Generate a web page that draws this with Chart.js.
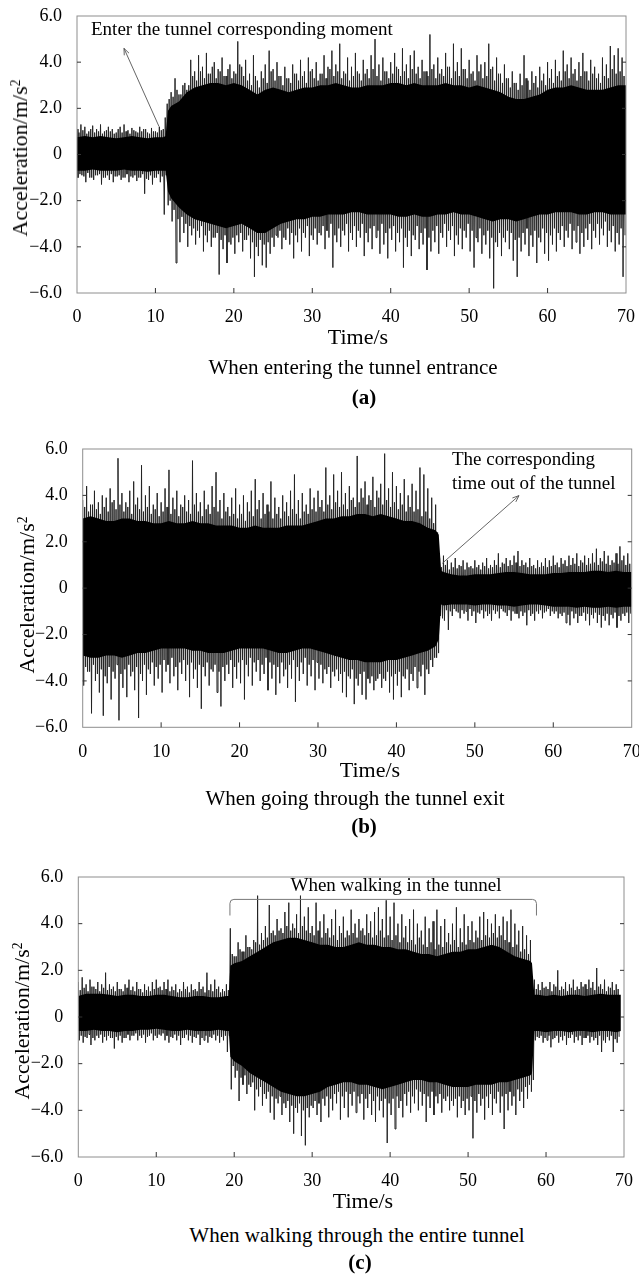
<!DOCTYPE html>
<html><head><meta charset="utf-8">
<script src="https://cdn.jsdelivr.net/npm/chart.js@4.4.1/dist/chart.umd.min.js"></script>
<style>
html,body{margin:0;padding:0;width:639px;height:1282px;overflow:hidden;background:#fff;}
canvas{position:absolute;left:0;}
.t{position:absolute;font-family:"Liberation Serif","Times New Roman",serif;color:#000;white-space:nowrap;line-height:1;}
.c{transform:translate(-50%,-50%);}
.l{transform:translate(0,-50%);}
.r{transform:translate(-50%,-50%) rotate(-90deg);}
sup{font-size:0.62em;vertical-align:0.55em;line-height:0;}
</style></head><body>
<canvas id="ca"></canvas>
<canvas id="cb"></canvas>
<canvas id="cc"></canvas>

<div class="t l" style="left:91px;top:28px;font-size:19px;">Enter the tunnel corresponding moment</div>
<div class="t r" style="left:20px;top:158px;font-size:22px;">Acceleration/m/s<sup>2</sup></div>
<div class="t c" style="left:358px;top:337px;font-size:22px;">Time/s</div>
<div class="t c" style="left:353px;top:367px;font-size:21px;">When entering the tunnel entrance</div>
<div class="t c" style="left:364px;top:397px;font-size:21px;font-weight:bold;">(a)</div>

<div class="t l" style="left:452px;top:458px;font-size:19px;">The corresponding</div>
<div class="t l" style="left:452px;top:482px;font-size:19px;">time out of the tunnel</div>
<div class="t r" style="left:27px;top:595px;font-size:22px;">Acceleration/m/s<sup>2</sup></div>
<div class="t c" style="left:370px;top:770px;font-size:22px;">Time/s</div>
<div class="t c" style="left:355px;top:798px;font-size:21px;">When going through the tunnel exit</div>
<div class="t c" style="left:364px;top:826px;font-size:21px;font-weight:bold;">(b)</div>

<div class="t c" style="left:396px;top:884px;font-size:19px;">When walking in the tunnel</div>
<div class="t r" style="left:22px;top:1021px;font-size:22px;">Acceleration/m/s<sup>2</sup></div>
<div class="t c" style="left:363px;top:1201px;font-size:22px;">Time/s</div>
<div class="t c" style="left:357px;top:1235px;font-size:21px;">When walking through the entire tunnel</div>
<div class="t c" style="left:360px;top:1262px;font-size:21px;font-weight:bold;">(c)</div>

<script>
// ---- axis ticks ----
const X_TICKS = [0, 10, 20, 30, 40, 50, 60, 70];
const X_LABELS = ['0', '10', '20', '30', '40', '50', '60', '70'];
const Y_TICKS = [-6, -4, -2, 0, 2, 4, 6];
const Y_LABELS = ['\u22126.0', '\u22124.0', '\u22122.0', '0', '2.0', '4.0', '6.0'];

// Peak samples, one group every 0.5 s:
// up[k] at t=0.5k, dn[k] at 0.5k+0.125, midUp[k] at 0.5k+0.25, midDn[k] at 0.5k+0.375
const SPIKE_STEP = 0.5;

// ---- (a) entering the tunnel ----
const upA = [1.1,1.3,1.2,1.0,1.25,1.1,1.3,1.0,1.2,1.1,
 0.95,1.2,1.3,1.05,1.15,1.0,1.2,1.1,0.95,1.15,
 1.0,1.2,1.1,2.2,2.7,3.3,2.6,3.0,2.8,4.1,
 3.6,4.3,3.8,4.4,3.5,4.0,3.7,4.2,3.4,3.9,
 3.6,4.9,3.8,4.1,3.5,4.3,3.2,3.6,3.9,4.5,
 3.7,4.0,3.4,3.8,3.3,3.9,3.5,4.1,3.6,4.2,
 3.7,4.0,3.5,4.3,3.8,4.5,3.9,4.8,3.6,4.2,
 3.8,4.4,3.5,4.1,3.7,4.3,5.0,3.9,4.2,3.6,
 4.0,4.4,3.7,4.6,3.9,4.3,4.5,3.8,4.1,3.6,
 5.2,3.9,4.2,3.7,4.4,3.8,4.8,4.0,4.6,3.7,
 4.1,3.6,4.3,3.9,4.0,4.8,3.8,4.2,3.5,3.9,
 3.3,3.6,3.1,3.5,4.3,3.2,3.6,3.4,3.8,3.5,
 4.0,3.7,4.1,3.6,4.5,3.9,4.2,3.7,4.0,4.4,
 3.6,4.1,3.8,3.5,4.2,3.9,4.7,4.3,4.6,4.2];
const dnA = [-1.0,-0.9,-1.2,-1.0,-1.1,-0.9,-1.3,-1.0,-1.1,-1.2,
 -0.95,-1.1,-1.0,-1.2,-1.0,-1.15,-1.0,-1.7,-1.1,-1.3,
 -1.0,-1.2,-2.6,-2.2,-2.9,-4.7,-3.8,-3.4,-4.0,-3.5,
 -3.9,-3.6,-4.2,-3.8,-4.0,-3.6,-5.2,-4.1,-4.7,-3.9,
 -4.3,-3.8,-4.2,-3.7,-4.5,-5.3,-4.4,-4.8,-4.9,-4.3,
 -4.0,-3.6,-4.1,-3.7,-3.9,-4.5,-3.8,-4.2,-3.6,-4.4,
 -3.7,-3.9,-3.5,-4.1,-3.6,-4.9,-3.8,-4.0,-3.5,-4.2,
 -3.7,-4.0,-3.6,-4.4,-3.8,-4.1,-3.6,-4.3,-3.9,-4.5,
 -3.7,-4.2,-3.8,-4.9,-4.0,-4.4,-3.7,-4.1,-3.9,-5.0,
 -4.2,-3.8,-4.3,-3.6,-4.0,-3.7,-4.4,-3.9,-4.1,-3.6,
 -4.2,-4.9,-3.8,-4.3,-3.9,-4.5,-5.8,-4.0,-4.4,-3.8,
 -4.1,-4.6,-5.3,-4.2,-3.9,-4.4,-4.0,-4.7,-3.8,-4.3,
 -4.6,-3.9,-4.2,-3.7,-4.0,-3.6,-4.1,-3.8,-4.3,-4.0,
 -3.7,-4.1,-3.6,-3.9,-3.5,-4.0,-3.8,-4.2,-3.9,-5.3];
const midUpA = [0.95,1.05,0.9,1.1,0.95,1.0,0.9,1.05,1.0,0.9,
 1.1,0.95,1.0,0.9,1.05,0.95,1.0,1.1,0.9,1.0,
 0.95,1.05,1.6,2.4,2.5,2.8,2.6,3.1,3.0,3.4,
 3.2,3.6,3.3,3.5,3.8,3.3,3.6,3.4,3.7,3.3,
 3.5,3.9,3.4,3.2,3.0,3.4,2.9,3.3,3.1,3.6,
 3.2,3.4,3.0,3.3,3.1,3.5,3.2,3.4,3.1,3.6,
 3.3,3.2,3.5,3.3,3.7,3.4,3.6,3.3,3.5,3.2,
 3.4,3.6,3.2,3.5,3.3,3.7,3.4,3.2,3.6,3.3,
 3.5,3.8,3.4,3.6,3.3,3.7,3.5,3.3,3.6,3.4,
 3.7,3.3,3.5,3.4,3.8,3.3,3.6,3.4,3.7,3.3,
 3.5,3.2,3.6,3.3,3.4,3.7,3.2,3.5,3.1,3.3,
 2.9,3.1,2.8,3.0,3.3,2.8,3.1,2.9,3.2,3.0,
 3.3,3.1,3.4,3.2,3.6,3.3,3.5,3.2,3.4,3.6,
 3.2,3.5,3.3,3.1,3.4,3.3,3.7,3.5,3.6,3.4];
const midDnA = [-0.85,-0.95,-0.8,-1.0,-0.9,-0.85,-1.0,-0.9,-0.85,-0.95,
 -0.9,-1.0,-0.85,-0.95,-0.9,-1.0,-0.85,-1.05,-0.9,-1.0,
 -0.85,-0.95,-0.9,-2.0,-2.4,-2.8,-2.7,-3.0,-3.1,-3.2,
 -3.3,-3.1,-3.5,-3.3,-3.6,-3.4,-3.7,-3.5,-3.8,-3.6,
 -3.5,-3.4,-3.7,-3.5,-3.8,-4.0,-3.7,-3.9,-3.8,-3.6,
 -3.5,-3.3,-3.6,-3.2,-3.4,-3.5,-3.2,-3.4,-3.1,-3.5,
 -3.2,-3.4,-3.1,-3.3,-3.0,-3.5,-3.2,-3.3,-3.0,-3.4,
 -3.1,-3.3,-3.0,-3.4,-3.2,-3.1,-3.3,-3.0,-3.4,-3.2,
 -3.1,-3.4,-3.2,-3.6,-3.3,-3.5,-3.1,-3.4,-3.2,-3.6,
 -3.3,-3.1,-3.4,-3.0,-3.3,-3.1,-3.5,-3.2,-3.3,-3.0,
 -3.3,-3.6,-3.2,-3.5,-3.3,-3.6,-3.8,-3.4,-3.6,-3.3,
 -3.4,-3.7,-3.6,-3.4,-3.2,-3.5,-3.3,-3.6,-3.2,-3.4,
 -3.5,-3.2,-3.4,-3.1,-3.3,-3.0,-3.3,-3.1,-3.4,-3.2,
 -3.0,-3.3,-3.0,-3.2,-2.9,-3.3,-3.1,-3.4,-3.2,-3.5];
const coreTimesA = [0,1,2,3,4,5,6,7,8,9,10,11,11.3,11.6,
 12,13,14,15,16,17,18,19,20,21,22,23,24,25,26,27,28,29,30,31,32,33,34,35,36,37,38,39,40,
 41,42,43,44,45,46,47,48,49,50,51,52,53,54,55,56,57,58,59,60,61,62,63,64,65,66,67,68,69,70];
const coreTopA = [0.75,0.8,0.75,0.8,0.75,0.7,0.75,0.8,0.75,0.7,0.75,0.75,0.8,1.9,
 2.1,2.3,2.7,2.9,3.0,3.1,3.1,3.0,3.1,3.0,2.8,2.6,2.8,2.9,2.8,2.7,2.8,2.9,2.9,3.0,3.0,3.1,3.0,2.9,2.9,3.0,3.0,3.0,3.1,
 3.1,3.0,3.1,3.0,3.0,3.0,3.1,3.0,3.0,2.9,3.0,2.9,2.8,2.7,2.5,2.4,2.4,2.5,2.6,2.8,2.9,2.9,3.0,2.9,2.8,2.8,2.8,2.9,3.0,3.0];
const coreBotA = [-0.7,-0.7,-0.65,-0.7,-0.7,-0.7,-0.65,-0.7,-0.7,-0.75,-0.7,-0.7,-0.7,-1.6,
 -1.9,-2.3,-2.6,-2.8,-2.9,-3.0,-3.1,-3.2,-3.1,-3.0,-3.2,-3.4,-3.4,-3.2,-3.0,-2.9,-2.8,-2.8,-2.7,-2.7,-2.6,-2.6,-2.6,-2.5,-2.5,-2.6,-2.6,-2.6,-2.6,
 -2.7,-2.7,-2.6,-2.7,-2.7,-2.6,-2.6,-2.5,-2.6,-2.6,-2.7,-2.8,-2.9,-2.8,-2.8,-2.9,-2.8,-2.7,-2.6,-2.6,-2.5,-2.5,-2.5,-2.6,-2.6,-2.5,-2.5,-2.6,-2.6,-2.6];

// ---- (b) going through the exit ----
const upB = [3.8,4.4,3.6,4.2,3.7,4.0,3.9,4.3,3.8,5.6,
 4.1,3.7,4.2,4.6,3.9,5.3,4.0,4.4,3.6,4.1,
 3.7,4.3,5.1,3.9,4.2,3.6,4.0,3.8,5.5,4.1,
 3.7,4.2,3.6,4.4,5.0,3.8,4.1,3.5,3.9,4.3,
 3.6,4.0,3.7,4.2,4.7,3.8,4.1,3.6,4.6,3.9,
 3.5,4.0,3.7,4.2,4.9,3.8,4.1,3.6,4.3,3.9,
 4.2,3.8,5.2,4.0,4.9,4.2,5.0,4.1,4.4,3.9,
 5.7,4.3,4.6,4.0,4.8,4.2,4.5,5.8,4.3,5.0,
 4.4,4.1,4.7,4.0,4.5,4.2,5.2,4.9,4.3,3.9,
 3.6,1.3,1.4,1.2,1.1,1.3,1.0,1.2,1.1,0.95,
 1.2,1.0,1.1,1.3,1.0,1.2,1.5,1.1,1.3,1.2,
 1.4,1.6,1.2,1.1,1.3,1.0,1.2,1.1,1.3,1.2,
 1.4,1.1,1.3,1.2,1.4,1.3,1.5,1.2,1.4,1.3,
 1.5,1.7,1.3,1.6,1.4,1.2,1.5,1.8,1.4,1.5];
const dnB = [-4.2,-3.6,-5.4,-4.0,-4.5,-5.5,-4.1,-4.8,-3.9,-5.7,
 -4.3,-4.7,-3.8,-4.4,-5.6,-4.0,-4.6,-3.7,-4.2,-3.9,
 -4.5,-3.6,-4.1,-3.8,-4.4,-3.7,-4.0,-4.7,-3.9,-4.3,
 -5.2,-3.8,-4.2,-3.6,-4.5,-5.1,-4.0,-3.7,-4.3,-3.9,
 -4.1,-4.8,-3.8,-4.2,-3.6,-4.0,-3.7,-4.4,-3.9,-4.6,
 -4.1,-3.8,-4.3,-3.9,-4.9,-4.0,-3.7,-4.2,-3.8,-4.4,
 -3.9,-4.1,-3.7,-4.3,-3.8,-4.0,-4.5,-4.7,-3.9,-5.0,
 -4.2,-4.6,-4.8,-4.1,-4.4,-3.9,-4.3,-4.0,-4.5,-4.8,
 -4.2,-4.7,-3.9,-4.4,-4.0,-4.3,-3.8,-4.6,-3.7,-3.4,
 -3.0,-1.2,-1.4,-1.8,-1.2,-1.0,-1.3,-1.1,-1.4,-1.2,
 -1.5,-1.1,-1.3,-1.2,-1.4,-1.1,-1.3,-1.0,-1.2,-1.4,
 -1.1,-1.3,-1.2,-1.6,-1.2,-1.4,-1.1,-1.3,-1.0,-1.2,
 -1.1,-1.3,-1.2,-1.5,-1.6,-1.3,-1.5,-1.2,-1.4,-1.6,
 -1.3,-1.5,-1.7,-1.4,-1.6,-1.3,-1.7,-1.4,-1.2,-1.5];
const midUpB = [3.5,3.3,3.6,3.4,3.2,3.5,3.3,3.7,3.4,3.6,
 3.3,3.5,3.2,3.6,3.4,3.3,3.5,3.2,3.4,3.1,
 3.3,3.5,3.2,3.4,3.1,3.5,3.3,3.2,3.6,3.3,
 3.1,3.4,3.2,3.5,3.3,3.0,3.3,3.1,3.2,3.0,
 3.2,2.9,3.3,3.1,3.4,3.0,3.2,3.3,3.0,3.2,
 3.0,3.3,3.1,3.4,3.2,3.0,3.3,3.2,3.4,3.3,
 3.5,3.3,3.6,3.4,3.7,3.5,3.6,3.4,3.8,3.5,
 3.7,3.9,3.6,3.8,3.5,3.9,3.6,3.8,3.5,3.7,
 3.4,3.6,3.3,3.5,3.3,3.4,3.1,3.3,3.0,2.8,
 2.4,0.9,1.0,0.8,0.9,0.85,0.95,0.8,0.9,0.85,
 0.9,0.8,0.95,0.85,0.9,1.0,0.9,1.05,0.95,1.0,
 1.1,0.95,1.0,0.9,0.95,0.85,0.9,0.95,0.9,0.95,
 1.0,0.9,1.05,0.95,1.0,1.05,0.95,1.1,1.0,1.05,
 1.1,1.0,1.15,1.05,1.0,1.1,1.05,1.2,1.0,1.05];
const midDnB = [-3.4,-3.6,-3.3,-3.7,-3.5,-3.8,-3.4,-3.6,-3.3,-3.7,
 -3.5,-3.3,-3.6,-3.4,-3.7,-3.3,-3.5,-3.2,-3.4,-3.3,
 -3.1,-3.3,-3.0,-3.4,-3.2,-3.1,-3.3,-3.2,-3.5,-3.3,
 -3.4,-3.2,-3.5,-3.3,-3.6,-3.4,-3.3,-3.1,-3.4,-3.2,
 -3.1,-3.3,-3.0,-3.2,-3.1,-3.3,-3.0,-3.2,-3.3,-3.4,
 -3.2,-3.5,-3.3,-3.1,-3.4,-3.2,-3.0,-3.3,-3.1,-3.2,
 -3.3,-3.5,-3.4,-3.6,-3.5,-3.7,-3.6,-3.8,-3.5,-3.9,
 -3.7,-3.6,-3.9,-3.8,-4.0,-3.7,-3.9,-3.6,-3.8,-3.7,
 -3.6,-3.8,-3.5,-3.7,-3.4,-3.6,-3.3,-3.5,-3.1,-3.0,
 -2.8,-1.3,-0.95,-1.0,-0.9,-1.05,-0.95,-1.0,-0.9,-1.0,
 -1.05,-0.95,-1.0,-1.1,-0.95,-1.0,-0.9,-1.05,-0.95,-1.0,
 -1.1,-1.0,-1.05,-0.95,-1.1,-1.0,-0.95,-1.05,-0.9,-1.0,
 -1.0,-1.1,-1.05,-1.15,-1.0,-1.1,-1.2,-1.05,-1.1,-1.15,
 -1.05,-1.15,-1.2,-1.1,-1.15,-1.05,-1.2,-1.1,-1.05,-1.1];
const coreTimesB = [0,1,2,3,4,5,6,7,8,9,10,11,12,13,14,15,16,17,18,19,20,21,22,23,24,25,26,27,28,29,
 30,31,32,33,34,35,36,37,38,39,40,41,42,43,44,45,45.4,45.7,
 46,47,48,49,50,51,52,53,54,55,56,57,58,59,60,61,62,63,64,65,66,67,68,69,70];
const coreTopB = [3.0,3.1,3.0,2.9,2.9,3.0,3.0,2.9,2.9,2.8,2.8,2.9,2.8,2.8,2.9,2.8,2.8,2.7,2.7,2.7,2.6,2.6,2.7,2.6,2.6,2.6,2.7,2.7,2.7,2.8,
 2.9,3.0,3.0,3.1,3.1,3.2,3.2,3.1,3.2,3.1,3.0,2.9,2.9,2.8,2.6,2.5,2.3,0.75,
 0.7,0.6,0.55,0.55,0.6,0.6,0.6,0.65,0.7,0.7,0.65,0.6,0.6,0.6,0.65,0.65,0.7,0.7,0.7,0.75,0.75,0.7,0.75,0.7,0.7];
const coreBotB = [-2.9,-3.0,-3.0,-2.9,-2.9,-3.0,-2.9,-2.8,-2.8,-2.7,-2.6,-2.6,-2.6,-2.6,-2.7,-2.7,-2.8,-2.8,-2.8,-2.7,-2.6,-2.6,-2.6,-2.6,-2.7,-2.8,-2.8,-2.7,-2.6,-2.6,
 -2.7,-2.8,-2.9,-3.0,-3.1,-3.1,-3.2,-3.2,-3.2,-3.1,-3.1,-3.0,-2.9,-2.8,-2.7,-2.5,-2.2,-0.7,
 -0.75,-0.7,-0.7,-0.7,-0.75,-0.7,-0.7,-0.75,-0.75,-0.8,-0.75,-0.7,-0.7,-0.75,-0.8,-0.8,-0.8,-0.85,-0.8,-0.85,-0.85,-0.8,-0.85,-0.8,-0.8];

// ---- (c) walking through the entire tunnel ----
const upC = [1.5,1.7,1.4,1.6,1.3,1.5,1.4,1.9,1.4,1.3,
 1.5,1.2,1.4,1.6,1.3,1.5,1.2,1.4,1.3,1.5,
 1.6,1.3,1.5,1.6,1.3,1.4,1.2,1.5,1.3,1.4,
 1.2,1.5,1.3,1.9,1.4,1.6,1.3,1.2,1.4,3.8,
 2.6,3.2,2.8,3.5,3.0,3.3,5.2,3.6,3.9,4.8,
 3.7,4.2,3.8,4.5,4.9,4.0,4.4,5.2,4.3,4.7,
 3.9,4.9,4.1,4.4,3.8,4.2,4.6,3.9,4.3,3.7,
 4.6,4.0,4.2,3.8,4.4,4.1,4.5,4.7,4.2,5.0,
 4.3,4.9,4.0,4.4,3.9,4.2,4.6,4.0,3.7,4.3,
 3.8,4.1,4.6,3.9,4.2,3.6,4.0,4.7,3.8,4.4,
 3.9,4.1,3.7,4.3,4.5,4.2,4.0,4.4,3.9,4.3,
 4.1,4.6,4.0,3.7,3.9,3.5,3.3,1.6,1.4,1.5,
 1.3,1.5,1.4,2.0,1.3,1.5,1.4,1.6,1.3,1.5,
 1.4,1.6,1.5,2.1,1.4,1.6,1.3,1.5,1.4,null];
const dnC = [-1.0,-1.1,-0.9,-1.2,-1.0,-0.9,-1.1,-1.0,-0.9,-1.35,
 -1.0,-1.1,-0.9,-1.0,-0.8,-1.0,-0.9,-1.1,-0.8,-1.0,
 -0.9,-0.8,-1.0,-1.1,-0.9,-1.0,-1.2,-0.9,-1.0,-1.1,
 -0.9,-1.2,-1.0,-1.1,-0.9,-1.0,-1.1,-1.0,-1.5,-3.1,
 -2.6,-3.6,-2.9,-3.3,-3.0,-4.0,-3.4,-3.8,-3.5,-4.1,
 -4.4,-3.7,-4.2,-3.9,-4.5,-5.0,-4.1,-5.1,-5.5,-4.3,
 -3.9,-4.2,-4.5,-3.8,-4.3,-4.0,-3.7,-4.4,-3.9,-4.3,
 -3.8,-4.1,-3.7,-4.4,-3.9,-4.2,-4.5,-4.0,-4.3,-5.4,
 -4.2,-4.8,-3.9,-4.3,-3.8,-4.1,-3.7,-4.0,-3.8,-4.5,
 -3.9,-4.2,-3.7,-4.1,-3.6,-4.0,-3.8,-4.3,-3.9,-4.2,
 -4.0,-5.2,-4.1,-3.8,-4.4,-3.9,-4.2,-3.7,-4.1,-4.8,
 -4.0,-3.8,-4.2,-3.6,-3.9,-3.5,-3.2,-1.0,-0.9,-1.1,
 -1.0,-1.3,-0.9,-1.1,-1.0,-1.2,-0.9,-1.1,-1.0,-1.2,
 -0.9,-1.1,-1.0,-1.2,-1.5,-1.1,-1.0,-1.5,-1.1,null];
const midUpC = [1.15,1.25,1.1,1.3,1.2,1.1,1.25,1.15,1.2,1.1,
 1.2,1.1,1.25,1.15,1.1,1.2,1.05,1.15,1.1,1.2,
 1.25,1.15,1.2,1.1,1.15,1.05,1.1,1.2,1.05,1.15,
 1.1,1.2,1.05,1.15,1.1,1.2,1.05,1.1,1.15,2.7,
 2.6,2.9,2.8,3.0,2.9,3.2,3.1,3.3,3.4,3.6,
 3.5,3.7,3.6,3.9,3.7,3.8,3.6,3.9,3.7,3.6,
 3.5,3.7,3.4,3.6,3.4,3.5,3.3,3.6,3.4,3.5,
 3.6,3.4,3.7,3.5,3.6,3.4,3.5,3.7,3.4,3.5,
 3.3,3.5,3.2,3.4,3.2,3.3,3.1,3.4,3.1,3.0,
 3.2,2.9,3.1,3.0,3.2,3.1,3.3,3.0,3.2,3.1,
 3.3,3.2,3.4,3.3,3.5,3.4,3.6,3.4,3.5,3.3,
 3.2,3.0,3.1,2.8,2.9,2.7,1.6,1.2,1.15,1.25,
 1.2,1.1,1.3,1.15,1.2,1.1,1.25,1.15,1.2,1.3,
 1.2,1.25,1.15,1.3,1.2,1.1,1.25,1.15,1.2,null];
const midDnC = [-0.8,-0.85,-0.75,-0.9,-0.8,-0.75,-0.85,-0.8,-0.9,-0.85,
 -0.8,-0.9,-0.75,-0.8,-0.7,-0.8,-0.75,-0.85,-0.7,-0.8,
 -0.75,-0.7,-0.8,-0.85,-0.75,-0.8,-0.9,-0.75,-0.8,-0.85,
 -0.75,-0.9,-0.8,-0.85,-0.75,-0.8,-0.85,-0.8,-0.8,-2.1,
 -2.3,-2.6,-2.5,-2.9,-2.8,-3.1,-3.0,-3.3,-3.2,-3.4,
 -3.5,-3.4,-3.7,-3.6,-3.8,-3.9,-3.7,-4.0,-3.9,-3.8,
 -3.6,-3.7,-3.5,-3.4,-3.5,-3.3,-3.2,-3.4,-3.2,-3.3,
 -3.2,-3.4,-3.3,-3.5,-3.3,-3.6,-3.4,-3.6,-3.5,-3.7,
 -3.5,-3.4,-3.6,-3.3,-3.2,-3.4,-3.1,-3.2,-3.3,-3.4,
 -3.2,-3.4,-3.3,-3.5,-3.4,-3.6,-3.5,-3.4,-3.6,-3.5,
 -3.4,-3.6,-3.3,-3.5,-3.4,-3.3,-3.5,-3.2,-3.4,-3.3,
 -3.2,-3.4,-3.1,-3.2,-3.0,-2.9,-2.7,-0.85,-0.8,-0.9,
 -0.8,-0.95,-0.8,-0.85,-0.8,-0.9,-0.75,-0.85,-0.8,-0.9,
 -0.8,-0.85,-0.9,-0.8,-1.0,-0.85,-0.8,-0.95,-0.85,null];
const coreTimesC = [0,1,2,3,4,5,6,7,8,9,10,11,12,13,14,15,16,17,18,19,19.3,19.5,
 20,21,22,23,24,25,26,27,28,29,30,31,32,33,34,35,36,37,38,39,40,41,42,43,44,45,46,47,48,49,50,51,52,53,54,55,56,57,58,
 58.2,58.5,59,60,61,62,63,64,65,66,67,68,69,69.6];
const coreTopC = [0.9,1.0,1.0,1.0,0.95,0.9,0.95,0.95,0.9,0.9,0.95,0.95,0.9,0.85,0.85,0.9,0.9,0.85,0.85,0.9,0.9,2.2,
 2.3,2.4,2.6,2.8,3.0,3.2,3.3,3.4,3.4,3.3,3.2,3.1,3.1,3.0,3.0,3.1,3.2,3.1,3.1,3.0,3.0,2.9,2.9,2.8,2.7,2.7,2.6,2.7,2.8,2.8,2.9,2.9,3.0,3.1,3.0,2.8,2.6,2.5,2.4,
 2.3,0.95,0.95,0.9,0.95,0.9,0.95,0.95,0.9,0.95,1.0,0.95,0.95,0.95];
const coreBotC = [-0.6,-0.6,-0.55,-0.6,-0.6,-0.65,-0.6,-0.6,-0.55,-0.55,-0.5,-0.55,-0.6,-0.6,-0.55,-0.6,-0.6,-0.6,-0.55,-0.6,-0.6,-1.7,
 -1.9,-2.1,-2.4,-2.6,-2.8,-3.0,-3.2,-3.3,-3.4,-3.4,-3.3,-3.2,-3.0,-2.9,-2.8,-2.8,-2.9,-2.9,-3.0,-3.1,-3.0,-2.9,-2.8,-2.7,-2.7,-2.8,-2.8,-2.9,-3.0,-3.0,-3.0,-2.9,-2.9,-2.9,-2.8,-2.8,-2.7,-2.6,-2.5,
 -2.4,-0.6,-0.6,-0.65,-0.6,-0.6,-0.65,-0.6,-0.6,-0.65,-0.6,-0.6,-0.65,-0.6];

// annotation anchors in data units (seconds, m/s^2)
const ARROW_A = {from: [10.46, 1.21], to: [5.99, 4.6]};
const ARROW_B = {from: [45.85, 1.07], to: [55.63, 3.99]};
const BRACKET_C = {t0: 19.45, t1: 58.77, vTop: 5.04, vEnd: 4.35};

const FONT = "'Liberation Serif','Times New Roman',serif";

const framePlugin = {
  id: 'frame',
  afterDraw(chart, args, opts) {
    const {ctx, chartArea: a, scales: {x, y}} = chart;
    ctx.save();
    ctx.lineWidth = 1;
    ctx.strokeStyle = '#8e8e8e';
    ctx.strokeRect(a.left, a.top, a.right - a.left, a.bottom - a.top);
    ctx.strokeStyle = '#333';
    ctx.beginPath();
    X_TICKS.forEach(v => {
      if (v > 0 && v < 70) { const px = x.getPixelForValue(v); ctx.moveTo(px, a.bottom); ctx.lineTo(px, a.bottom - 5); }
    });
    Y_TICKS.forEach(v => {
      if (v > -6 && v < 6) {
        const py = y.getPixelForValue(v);
        ctx.moveTo(a.left, py); ctx.lineTo(a.left + 4, py);
        ctx.moveTo(a.right, py); ctx.lineTo(a.right - 4, py);
      }
    });
    ctx.stroke();
    if (opts.arrow) {
      const x1 = x.getPixelForValue(opts.arrow.from[0]), y1 = y.getPixelForValue(opts.arrow.from[1]);
      const x2 = x.getPixelForValue(opts.arrow.to[0]), y2 = y.getPixelForValue(opts.arrow.to[1]);
      ctx.strokeStyle = '#555'; ctx.lineWidth = 0.9;
      ctx.beginPath(); ctx.moveTo(x1, y1); ctx.lineTo(x2, y2); ctx.stroke();
      const ang = Math.atan2(y2 - y1, x2 - x1), L = 7, w = 0.38;
      ctx.beginPath();
      ctx.moveTo(x2 - L * Math.cos(ang - w), y2 - L * Math.sin(ang - w));
      ctx.lineTo(x2, y2);
      ctx.lineTo(x2 - L * Math.cos(ang + w), y2 - L * Math.sin(ang + w));
      ctx.stroke();
    }
    if (opts.bracket) {
      const b = opts.bracket;
      const xl = x.getPixelForValue(b.t0), xr = x.getPixelForValue(b.t1);
      const yt = y.getPixelForValue(b.vTop), yb = y.getPixelForValue(b.vEnd);
      ctx.strokeStyle = '#777'; ctx.lineWidth = 1;
      ctx.beginPath();
      ctx.moveTo(xl, yb); ctx.arcTo(xl, yt, xl + 8, yt, 4);
      ctx.arcTo(xr, yt, xr, yb, 4); ctx.lineTo(xr, yb);
      ctx.stroke();
    }
    ctx.restore();
  }
};

function makePanel(id, p) {
  const W = 660, H = 330;
  const canvas = document.getElementById(id);
  canvas.width = W; canvas.height = H;
  canvas.style.top = p.canvasTop + 'px';
  const q = SPIKE_STEP / 4;
  const spikes = [];
  for (let k = 0; k < p.up.length; k++) {
    const t = k * SPIKE_STEP;
    spikes.push({x: t, y: p.up[k]});
    spikes.push({x: t + q, y: p.dn[k]});
    spikes.push({x: t + 2 * q, y: p.midUp[k]});
    spikes.push({x: t + 3 * q, y: p.midDn[k]});
  }
  const top = p.coreT.map((t, i) => ({x: t, y: p.coreTop[i]}));
  const bot = p.coreT.map((t, i) => ({x: t, y: p.coreBot[i]}));
  const tickFont = {family: FONT, size: 18, lineHeight: 1};
  new Chart(canvas, {
    type: 'line',
    data: {datasets: [
      {data: top, borderWidth: 0, borderColor: 'rgba(0,0,0,0)', backgroundColor: '#000', pointRadius: 0, fill: '+1', tension: 0},
      {data: bot, borderWidth: 0, borderColor: 'rgba(0,0,0,0)', pointRadius: 0, fill: false, tension: 0},
      {data: spikes, borderWidth: 1, borderColor: '#242424', pointRadius: 0, fill: false, tension: 0, borderJoinStyle: 'bevel', spanGaps: false}
    ]},
    options: {
      responsive: false, devicePixelRatio: 1, animation: false, events: [],
      layout: {padding: {left: 0, top: p.plot.top - p.canvasTop, right: W - p.plot.right, bottom: 0}},
      plugins: {legend: {display: false}, tooltip: {enabled: false}, frame: {arrow: p.arrow, bracket: p.bracket}},
      scales: {
        x: {type: 'linear', min: 0, max: 70,
            afterFit(s) { s.height = H - (p.plot.bottom - p.canvasTop); },
            afterBuildTicks(s) { s.ticks = X_TICKS.map(v => ({value: v})); },
            ticks: {padding: 7.5, font: tickFont, color: '#000', maxRotation: 0, autoSkip: false,
                    callback: v => X_LABELS[X_TICKS.indexOf(v)]},
            grid: {display: false}, border: {display: false}},
        y: {type: 'linear', min: -6, max: 6,
            afterFit(s) { s.width = p.plot.left; },
            afterBuildTicks(s) { s.ticks = Y_TICKS.map(v => ({value: v})); },
            ticks: {padding: 7, font: tickFont, color: '#000', autoSkip: false,
                    callback: v => Y_LABELS[Y_TICKS.indexOf(v)]},
            grid: {display: false}, border: {display: false}}
      }
    },
    plugins: [framePlugin]
  });
}

makePanel('ca', {canvasTop: 0, plot: {left: 77, top: 10, right: 626, bottom: 293},
  up: upA, dn: dnA, midUp: midUpA, midDn: midDnA, coreT: coreTimesA, coreTop: coreTopA, coreBot: coreBotA, arrow: ARROW_A});
makePanel('cb', {canvasTop: 433, plot: {left: 82.7, top: 443.7, right: 631.7, bottom: 727.3},
  up: upB, dn: dnB, midUp: midUpB, midDn: midDnB, coreT: coreTimesB, coreTop: coreTopB, coreBot: coreBotB, arrow: ARROW_B});
makePanel('cc', {canvasTop: 861, plot: {left: 78.3, top: 871, right: 624, bottom: 1157},
  up: upC, dn: dnC, midUp: midUpC, midDn: midDnC, coreT: coreTimesC, coreTop: coreTopC, coreBot: coreBotC, bracket: BRACKET_C});
</script>
</body></html>
